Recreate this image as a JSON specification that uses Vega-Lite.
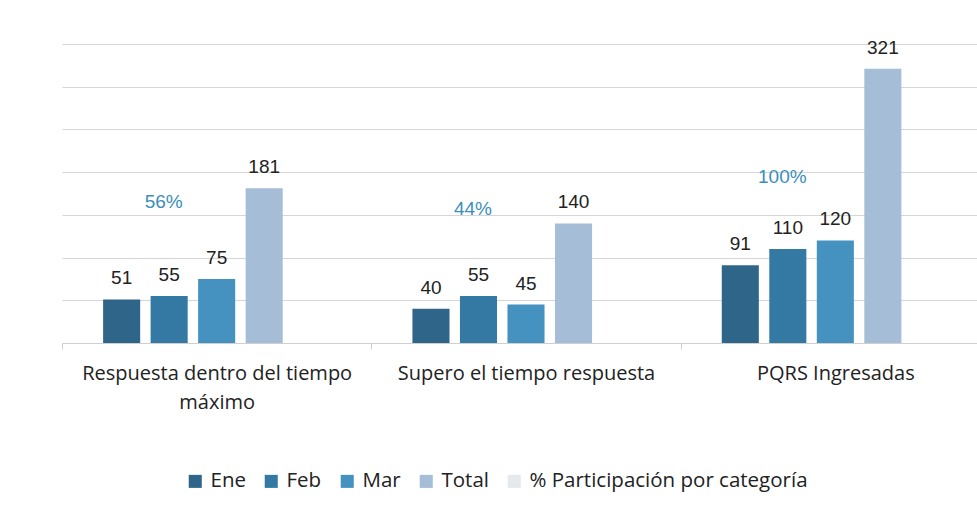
{
  "$schema": "https://vega.github.io/schema/vega-lite/v6.json",
  "width": 928,
  "height": 299,
  "padding": {"left": 61, "top": 38, "right": 0, "bottom": 0},
  "autosize": {"type": "pad"},
  "background": "white",
  "config": {"view": {"stroke": null}, "font": "Open Sans"},
  "datasets": {
    "bars": [
      {"categoria": "Respuesta dentro del tiempo máximo", "mes": "Ene", "valor": 51},
      {"categoria": "Respuesta dentro del tiempo máximo", "mes": "Feb", "valor": 55},
      {"categoria": "Respuesta dentro del tiempo máximo", "mes": "Mar", "valor": 75},
      {"categoria": "Respuesta dentro del tiempo máximo", "mes": "Total", "valor": 181},
      {"categoria": "Supero el tiempo respuesta", "mes": "Ene", "valor": 40},
      {"categoria": "Supero el tiempo respuesta", "mes": "Feb", "valor": 55},
      {"categoria": "Supero el tiempo respuesta", "mes": "Mar", "valor": 45},
      {"categoria": "Supero el tiempo respuesta", "mes": "Total", "valor": 140},
      {"categoria": "PQRS Ingresadas", "mes": "Ene", "valor": 91},
      {"categoria": "PQRS Ingresadas", "mes": "Feb", "valor": 110},
      {"categoria": "PQRS Ingresadas", "mes": "Mar", "valor": 120},
      {"categoria": "PQRS Ingresadas", "mes": "Total", "valor": 321}
    ],
    "pct": [
      {"categoria": "Respuesta dentro del tiempo máximo", "pct": 0.56, "label": "56%"},
      {"categoria": "Supero el tiempo respuesta", "pct": 0.44, "label": "44%"},
      {"categoria": "PQRS Ingresadas", "pct": 1.0, "label": "100%"}
    ]
  },
  "layer": [
    {
      "data": {"name": "bars"},
      "encoding": {
        "x": {
          "field": "categoria", "type": "nominal", "title": null,
          "sort": ["Respuesta dentro del tiempo máximo", "Supero el tiempo respuesta", "PQRS Ingresadas"],
          "scale": {"paddingInner": 0, "paddingOuter": 0},
          "axis": {
            "labelAngle": 0, "labelFontSize": 20, "labelColor": "#222222", "labelFont": "Open Sans",
            "labelPadding": 14, "labelLineHeight": 29, "labelLimit": 500,
            "labelExpr": "datum.value == 'Respuesta dentro del tiempo máximo' ? ['Respuesta dentro del tiempo', 'máximo'] : datum.label",
            "ticks": true, "tickBand": "extent", "tickSize": 6, "tickColor": "#cfcfcf",
            "domainColor": "#cfcfcf", "grid": false
          }
        },
        "xOffset": {
          "field": "mes", "type": "nominal",
          "scale": {"domain": ["Ene", "Feb", "Mar", "Total", "% Participación por categoría"], "paddingInner": 0.22, "paddingOuter": 0.865}
        },
        "y": {
          "field": "valor", "type": "quantitative",
          "scale": {"domain": [0, 350]},
          "axis": {"title": null, "labels": false, "ticks": false, "domain": false, "grid": true, "values": [0, 50, 100, 150, 200, 250, 300, 350], "gridColor": "#d6d6d6"}
        }
      },
      "layer": [
        {
          "mark": {"type": "bar"},
          "encoding": {
            "color": {
              "field": "mes", "type": "nominal",
              "scale": {"domain": ["Ene", "Feb", "Mar", "Total", "% Participación por categoría"], "range": ["#30658a", "#3479a3", "#4592c0", "#a5bdd7", "#e6e9ec"]},
              "legend": {
                "orient": "none", "legendX": 123, "legendY": 427, "direction": "horizontal", "columns": 5,
                "title": null, "symbolType": "square", "symbolSize": 170, "symbolStrokeWidth": 0,
                "labelFontSize": 20.5, "labelColor": "#222222", "labelFont": "Open Sans", "columnPadding": 15, "labelOffset": 5, "labelLimit": 400
              }
            }
          }
        },
        {
          "mark": {"type": "text", "dy": -15, "baseline": "alphabetic", "fontSize": 19, "font": "Liberation Sans", "color": "#222222"},
          "encoding": {"text": {"field": "valor", "type": "quantitative"}}
        }
      ]
    },
    {
      "data": {"name": "pct"},
      "mark": {"type": "text", "dx": -53, "baseline": "middle", "fontSize": 19, "font": "Liberation Sans", "color": "#3b8fbb"},
      "encoding": {
        "x": {"field": "categoria", "type": "nominal", "title": null, "sort": ["Respuesta dentro del tiempo máximo", "Supero el tiempo respuesta", "PQRS Ingresadas"]},
        "y": {"field": "pct", "type": "quantitative", "scale": {"domain": [-1.912, 3.333], "nice": false}, "axis": null},
        "text": {"field": "label"}
      }
    }
  ],
  "resolve": {"scale": {"y": "independent"}}
}
